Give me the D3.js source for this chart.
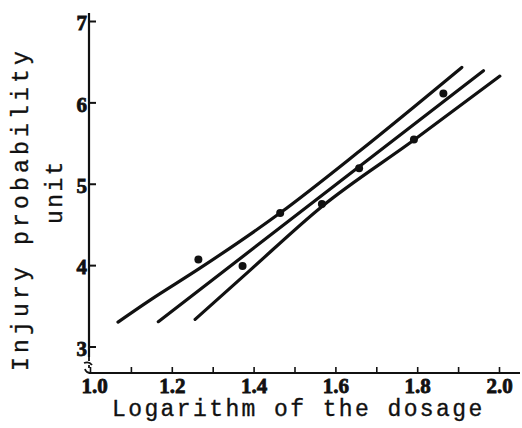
<!DOCTYPE html>
<html>
<head>
<meta charset="utf-8">
<script src="https://cdn.jsdelivr.net/npm/d3@7"></script>
<style>
  html, body { margin: 0; padding: 0; background: #fff; }
  svg { display: block; }
</style>
</head>
<body>
<div id="chart"></div>
<script>
// Observed probit values against log dose
const logDose = [1.265, 1.373, 1.465, 1.567, 1.658, 1.792, 1.864];
const probit  = [4.07, 3.99, 4.64, 4.75, 5.19, 5.545, 6.11];

// Fitted regression line (end points)
const fitX = [1.167, 1.962];
const fitY = [3.305, 6.388];

// Upper fiducial limit
const upperX = [1.0685, 1.147, 1.265, 1.4645, 1.6585, 1.909];
const upperY = [3.30, 3.57, 3.95, 4.64, 5.40, 6.43];

// Lower fiducial limit
const lowerX = [1.257, 1.391, 1.5665, 1.792, 2.002];
const lowerY = [3.334, 3.936, 4.718, 5.537, 6.323];

// Axis ticks
const xTicks = [1.0, 1.1, 1.2, 1.3, 1.4, 1.5, 1.6, 1.7, 1.8, 1.9, 2.0];
const xTickLabels = ["1.0", "", "1.2", "", "1.4", "", "1.6", "", "1.8", "", "2.0"];
const yTicks = [3, 4, 5, 6, 7];

const xTitle = "Logarithm of the dosage";
const yTitle = ["Injury probability", "unit"];

const W = 522, H = 428;
const svg = d3.select("#chart").append("svg")
  .attr("width", W).attr("height", H);

const x = d3.scaleLinear().domain([1.0, 2.0]).range([90, 499]);
const y = d3.scaleLinear().domain([3, 7]).range([346.5, 21]);
const x0 = x(1.0), yBase = 373;

const ink = "#111";
const tickFont = "bold 21px 'Liberation Serif', 'DejaVu Serif', serif";
const monoFont = "'Liberation Mono', 'DejaVu Sans Mono', monospace";

// Heavy tick numerals
const tickText = sel => sel
  .attr("fill", ink)
  .attr("stroke", ink)
  .attr("stroke-width", 0.8)
  .attr("font-weight", "bold")
  .style("font", tickFont);

// X axis: ticks point up into the plot
const xAxis = d3.axisBottom(x)
  .tickValues(xTicks)
  .tickSize(-6)
  .tickPadding(5)
  .tickFormat((d, i) => xTickLabels[i]);

const gx = svg.append("g")
  .attr("transform", `translate(0,${yBase})`)
  .call(xAxis);
gx.select(".domain").remove();
gx.selectAll(".tick line").attr("stroke", ink).attr("stroke-width", 1.6);
gx.selectAll(".tick text")
  .call(tickText)
  .attr("dx", (d, i) => i === 0 ? 4 : 0);

svg.append("line")
  .attr("x1", x0 - 1).attr("x2", 520)
  .attr("y1", yBase).attr("y2", yBase)
  .attr("stroke", ink).attr("stroke-width", 2.2);

// Y axis: ticks point right into the plot
const yAxis = d3.axisLeft(y)
  .tickValues(yTicks)
  .tickSize(-7)
  .tickPadding(2)
  .tickFormat(d3.format("d"));

const gy = svg.append("g")
  .attr("transform", `translate(${x0 - 1},0)`)
  .call(yAxis);
gy.select(".domain").remove();
gy.selectAll(".tick line").attr("stroke", ink).attr("stroke-width", 2);
gy.selectAll(".tick text")
  .call(tickText)
  .attr("dy", "0.42em");

svg.append("line")
  .attr("x1", x0 - 1).attr("x2", x0 - 1)
  .attr("y1", 13).attr("y2", 357)
  .attr("stroke", ink).attr("stroke-width", 2.2);

// Axis break between 3 and the origin
svg.append("path")
  .attr("d", `M${x0 - 1},357 L${x0 - 1},361
             M${x0 - 6},363 Q${x0 - 1},361 ${x0 + 2},365
             M${x0 - 1},365 L${x0 - 1},368
             M${x0 - 5},369 Q${x0 - 4},373 ${x0 + 1},373`)
  .attr("fill", "none")
  .attr("stroke", ink).attr("stroke-width", 1.8);

// Regression line and fiducial limits
const line = d3.line()
  .x(d => x(d[0]))
  .y(d => y(d[1]))
  .curve(d3.curveMonotoneX);

const series = [
  d3.zip(upperX, upperY),
  d3.zip(fitX, fitY),
  d3.zip(lowerX, lowerY)
];

svg.append("g").selectAll("path")
  .data(series)
  .join("path")
  .attr("d", line)
  .attr("fill", "none")
  .attr("stroke", ink)
  .attr("stroke-width", 3.2)
  .attr("stroke-linecap", "round");

// Observations
svg.append("g").selectAll("circle")
  .data(d3.zip(logDose, probit))
  .join("circle")
  .attr("cx", d => x(d[0]))
  .attr("cy", d => y(d[1]))
  .attr("r", 4)
  .attr("fill", ink);

// Axis titles
const titleStyle = sel => sel
  .attr("fill", ink)
  .attr("stroke", ink)
  .attr("stroke-width", 0.35)
  .style("font-family", monoFont)
  .style("font-size", "23px");

svg.append("text")
  .attr("x", 112).attr("y", 416)
  .call(titleStyle)
  .style("letter-spacing", "2.4px")
  .text(xTitle);

svg.append("text")
  .attr("transform", "translate(28,371) rotate(-90)")
  .call(titleStyle)
  .style("letter-spacing", "4.2px")
  .text(yTitle[0]);

svg.append("text")
  .attr("transform", "translate(62,224) rotate(-90)")
  .call(titleStyle)
  .style("letter-spacing", "2.4px")
  .text(yTitle[1]);
</script>
</body>
</html>
